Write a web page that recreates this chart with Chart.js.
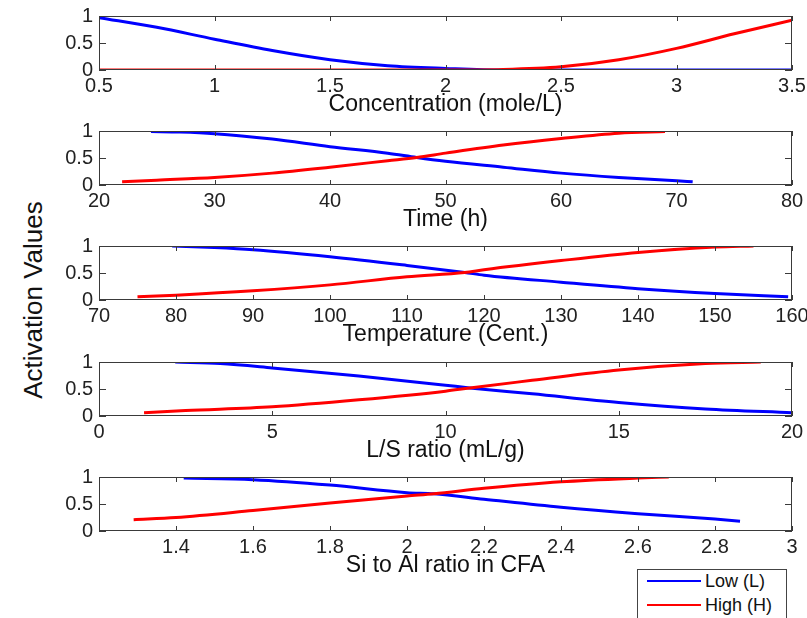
<!DOCTYPE html>
<html>
<head>
<meta charset="utf-8">
<script src="https://cdn.jsdelivr.net/npm/chart.js@4.4.1/dist/chart.umd.min.js"></script>
<style>
    body {
        margin: 0;
        background: #fff;
        overflow: hidden;
        width: 807px;
        height: 618px;
        position: relative;
        font-family: "Liberation Sans", Arial, sans-serif;
    }
    canvas.panel { position: absolute; left: 0; }
    #ylabel {
        position: absolute;
        left: 33px;
        top: 300px;
        transform: translate(-50%, -50%) rotate(-90deg);
        font-size: 26px;
        color: #111;
        white-space: nowrap;
    }
    #leyenda {
        position: absolute;
        left: 637px;
        top: 569px;
        width: 148px;
        height: 60px;
        border: 1px solid #444;
        background: #fff;
        font-size: 18px;
        color: #111;
    }
    .fila {
        position: absolute;
        left: 9px;
        height: 22px;
        display: flex;
        align-items: center;
        white-space: nowrap;
    }
    .fila .linea { display: inline-block; width: 54px; height: 2px; margin-right: 4px; }
</style>
</head>
<body>
<div id="ylabel">Activation Values</div>
<div id="leyenda"></div>

<script>
// series names
const seriesNames = ['Low (L)', 'High (H)'];

// axis titles and tick ranges (one entry per panel)
const xTitles = ['Concentration (mole/L)', 'Time (h)', 'Temperature (Cent.)', 'L/S ratio (mL/g)', 'Si to Al ratio in CFA'];
const xMin = [0.5, 20, 70, 0, 1.2];
const xMax = [3.5, 80, 160, 20, 3];
const xStep = [0.5, 10, 10, 5, 0.2];
const yStep = 0.5;

// panel 1 - concentration
const concX = [0.5, 0.75, 1.0, 1.25, 1.5, 1.75, 2.0, 2.25, 2.5, 2.75, 3.0, 3.25, 3.5];
const concLow = [0.97, 0.79, 0.57, 0.36, 0.19, 0.08, 0.03, 0, 0, 0, 0, 0, 0];
const concHigh = [0, 0, 0, 0, 0, 0, 0, 0.01, 0.06, 0.19, 0.40, 0.67, 0.92];

// panel 2 - time
const timeLowX = [24.5, 27, 30, 35, 40, 45, 47.5, 50, 55, 60, 65, 70, 71.4];
const timeLow = [0.99, 0.98, 0.95, 0.85, 0.71, 0.59, 0.51, 0.44, 0.33, 0.22, 0.14, 0.08, 0.06];
const timeHighX = [22, 25, 30, 35, 40, 45, 47.5, 50, 55, 60, 65, 69];
const timeHigh = [0.06, 0.09, 0.14, 0.22, 0.33, 0.45, 0.51, 0.59, 0.74, 0.86, 0.96, 0.99];

// panel 3 - temperature
const tempLowX = [79.5, 85, 90, 100, 110, 117.5, 120, 130, 140, 150, 159.5];
const tempLow = [1.0, 0.97, 0.93, 0.80, 0.64, 0.51, 0.46, 0.33, 0.21, 0.12, 0.06];
const tempHighX = [75, 80, 90, 100, 110, 117.5, 120, 130, 140, 150, 155];
const tempHigh = [0.06, 0.09, 0.17, 0.28, 0.43, 0.51, 0.56, 0.73, 0.88, 0.98, 1.0];

// panel 4 - L/S ratio
const lsLowX = [2.2, 3.5, 5, 7.5, 10, 10.7, 12.5, 15, 17.5, 20];
const lsLow = [1.0, 0.97, 0.89, 0.74, 0.57, 0.52, 0.41, 0.25, 0.13, 0.06];
const lsHighX = [1.3, 2.5, 5, 7.5, 10, 10.7, 12.5, 15, 17.5, 19.1];
const lsHigh = [0.06, 0.10, 0.17, 0.30, 0.46, 0.52, 0.66, 0.85, 0.97, 1.0];

// panel 5 - Si/Al ratio
const siLowX = [1.42, 1.6, 1.8, 2.0, 2.07, 2.2, 2.4, 2.6, 2.8, 2.865];
const siLow = [0.98, 0.95, 0.85, 0.71, 0.69, 0.59, 0.44, 0.32, 0.22, 0.18];
const siHighX = [1.29, 1.4, 1.6, 1.8, 2.0, 2.07, 2.2, 2.4, 2.6, 2.68];
const siHigh = [0.21, 0.25, 0.38, 0.52, 0.65, 0.69, 0.79, 0.91, 0.98, 1.0];

const colores = ['#0000ff', '#ff0000'];
const panelTops = [16, 131, 246, 362, 477];
const PAD_TOP = 14;
const PLOT_H = 54;
const CANVAS_H = 116;

function pares(xs, ys) {
    return xs.map((x, i) => ({ x: x, y: ys[i] }));
}

function etiqueta(v) {
    return String(Number(v.toFixed(2)));
}

// MATLAB style box with ticks pointing inwards
const marcoPlugin = {
    id: 'marco',
    afterDatasetsDraw(chart) {
        const ctx = chart.ctx;
        const a = chart.chartArea;
        const sx = chart.scales.x;
        const sy = chart.scales.y;
        ctx.save();
        ctx.strokeStyle = '#3a3a3a';
        ctx.lineWidth = 1;
        ctx.strokeRect(Math.round(a.left) + 0.5, Math.round(a.top) + 0.5,
            Math.round(a.right - a.left) - 1, Math.round(a.bottom - a.top) - 1);
        ctx.beginPath();
        sx.ticks.forEach((t, i) => {
            const px = Math.round(sx.getPixelForTick(i)) + 0.5;
            ctx.moveTo(px, a.bottom);
            ctx.lineTo(px, a.bottom - 5);
            ctx.moveTo(px, a.top);
            ctx.lineTo(px, a.top + 5);
        });
        sy.ticks.forEach((t, i) => {
            const py = Math.round(sy.getPixelForTick(i)) + 0.5;
            ctx.moveTo(a.left, py);
            ctx.lineTo(a.left + 7, py);
            ctx.moveTo(a.right, py);
            ctx.lineTo(a.right - 7, py);
        });
        ctx.stroke();
        ctx.restore();
    }
};

function dibujarPanel(n, lowX, low, highX, high) {
    const canvas = document.createElement('canvas');
    canvas.className = 'panel';
    canvas.width = 810;
    canvas.height = CANVAS_H;
    canvas.style.top = (panelTops[n] - PAD_TOP) + 'px';
    document.body.appendChild(canvas);

    new Chart(canvas.getContext('2d'), {
        type: 'line',
        data: {
            datasets: [{
                label: seriesNames[0],
                data: pares(lowX, low),
                borderColor: colores[0],
                backgroundColor: colores[0],
                order: 1
            }, {
                label: seriesNames[1],
                data: pares(highX, high),
                borderColor: colores[1],
                backgroundColor: colores[1],
                order: 0
            }]
        },
        options: {
            responsive: false,
            animation: false,
            layout: { padding: { top: PAD_TOP, right: 18, bottom: 0, left: 0 } },
            elements: {
                point: { radius: 0 },
                line: { borderWidth: 3, cubicInterpolationMode: 'monotone', fill: false }
            },
            plugins: {
                legend: { display: false },
                tooltip: { enabled: false }
            },
            scales: {
                x: {
                    type: 'linear',
                    min: xMin[n],
                    max: xMax[n],
                    grid: { display: false, drawTicks: false },
                    border: { display: false },
                    ticks: {
                        stepSize: xStep[n],
                        autoSkip: false,
                        maxRotation: 0,
                        padding: 4,
                        color: '#222',
                        font: { family: '"Liberation Sans", Arial', size: 20 },
                        callback: function(v, i) {
                            if (n === 4 && i === 0) return '';
                            return etiqueta(v);
                        }
                    },
                    title: {
                        display: true,
                        text: xTitles[n],
                        color: '#111',
                        padding: { top: 0, bottom: 0 },
                        font: { family: '"Liberation Sans", Arial', size: 23 }
                    },
                    afterFit: function(s) {
                        s.height = CANVAS_H - PAD_TOP - PLOT_H;
                        s.paddingLeft = 0;
                        s.paddingRight = 0;
                    }
                },
                y: {
                    min: 0,
                    max: 1,
                    grid: { display: false, drawTicks: false },
                    border: { display: false },
                    ticks: {
                        stepSize: yStep,
                        autoSkip: false,
                        padding: 6,
                        color: '#222',
                        font: { family: '"Liberation Sans", Arial', size: 20 },
                        callback: function(v) { return etiqueta(v); }
                    },
                    afterFit: function(s) {
                        s.width = 99;
                        s.paddingTop = 0;
                        s.paddingBottom = 0;
                    }
                }
            }
        },
        plugins: [marcoPlugin]
    });
}

function leyenda() {
    const caja = document.getElementById('leyenda');
    seriesNames.forEach((nombre, i) => {
        const fila = document.createElement('div');
        fila.className = 'fila';
        fila.style.top = (i === 0 ? 0 : 24) + 'px';
        const linea = document.createElement('span');
        linea.className = 'linea';
        linea.style.background = colores[i];
        const txt = document.createElement('span');
        txt.textContent = nombre;
        fila.appendChild(linea);
        fila.appendChild(txt);
        caja.appendChild(fila);
    });
}

dibujarPanel(0, concX, concLow, concX, concHigh);
dibujarPanel(1, timeLowX, timeLow, timeHighX, timeHigh);
dibujarPanel(2, tempLowX, tempLow, tempHighX, tempHigh);
dibujarPanel(3, lsLowX, lsLow, lsHighX, lsHigh);
dibujarPanel(4, siLowX, siLow, siHighX, siHigh);
leyenda();
</script>
</body>
</html>
